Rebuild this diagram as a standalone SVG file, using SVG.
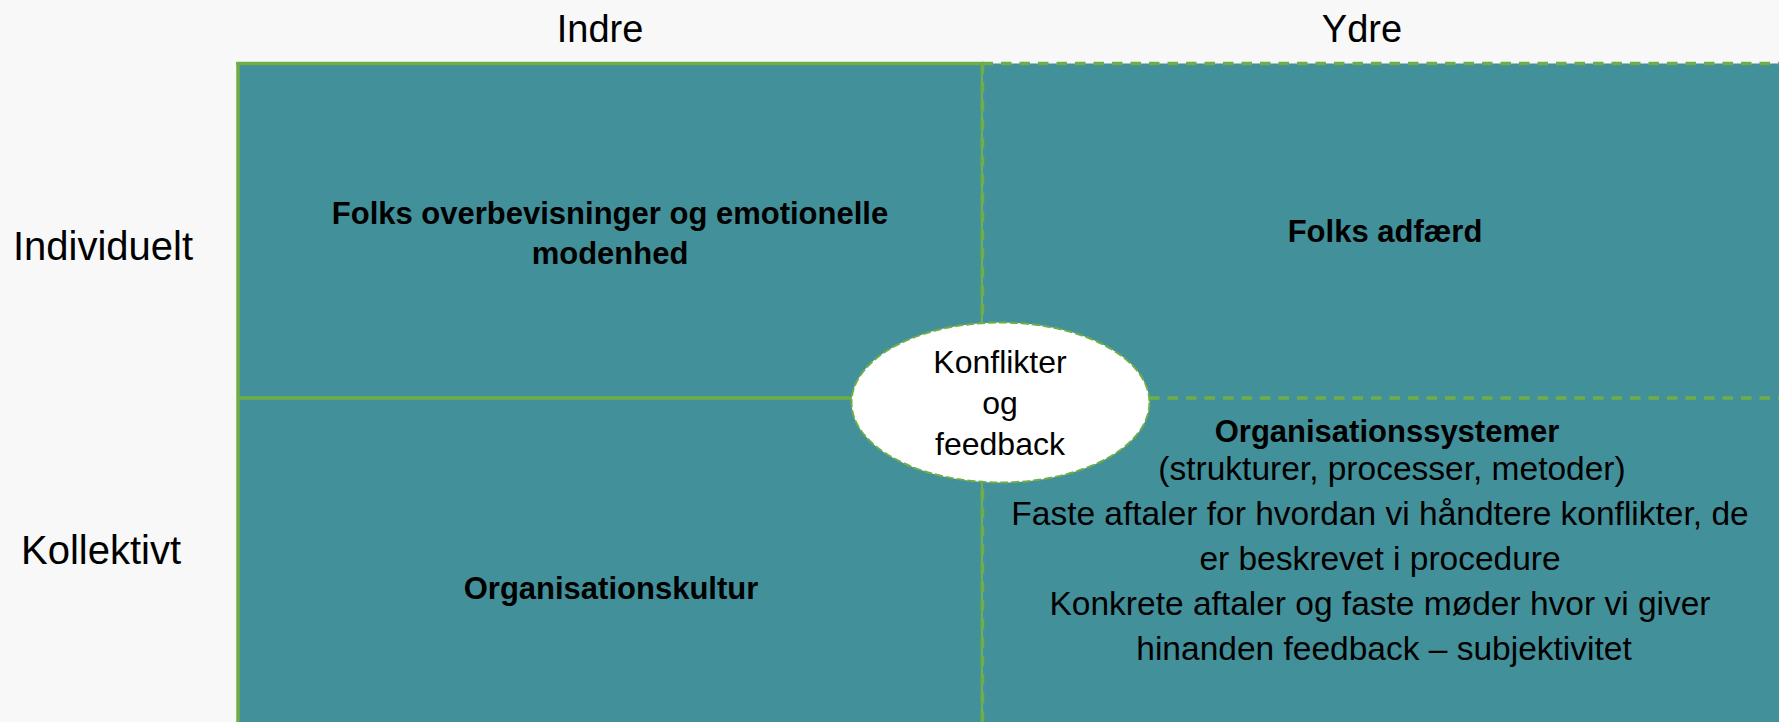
<svg xmlns="http://www.w3.org/2000/svg" width="1779" height="722" viewBox="0 0 1779 722">
  <style>
    text { font-family: "Liberation Sans", Arial, sans-serif; fill: #000; text-anchor: middle; }
    .head { font-size: 38px; }
    .side { font-size: 40px; }
    .bold { font-size: 31px; font-weight: bold; }
    .body { font-size: 33.5px; }
    .oval { font-size: 32px; }
    .quad { fill: #42909A; stroke: none; }
    .solid { stroke: #70AD47; stroke-width: 3.5; fill: none; }
    .thin { stroke: #70AD47; stroke-width: 1.75; fill: none; }
    .dash { stroke: #70AD47; stroke-width: 3.5; fill: none; stroke-dasharray: 10.5 8; }
  </style>

  <rect width="1779" height="722" fill="#F8F8F8"/>

  <!-- axis labels -->
  <g id="axis-labels">
    <text class="head" x="600" y="42">Indre</text>
    <text class="head" x="1362" y="42">Ydre</text>
    <text class="side" x="103" y="260">Individuelt</text>
    <text class="side" x="101" y="564">Kollektivt</text>
  </g>

  <!-- quadrants -->
  <g id="q-inner-individual">
    <rect class="quad" x="238" y="63.5" width="744.5" height="334.5"/>
    <text class="bold" x="610" y="224">Folks overbevisninger og emotionelle</text>
    <text class="bold" x="610" y="264">modenhed</text>
  </g>
  <g id="q-outer-individual">
    <rect class="quad" x="982.5" y="63.5" width="800" height="334.5"/>
    <text class="bold" x="1385" y="242">Folks adfærd</text>
  </g>
  <g id="q-inner-collective">
    <rect class="quad" x="238" y="398" width="744.5" height="330"/>
    <text class="bold" x="611" y="599">Organisationskultur</text>
  </g>
  <g id="q-outer-collective">
    <rect class="quad" x="982.5" y="398" width="800" height="330"/>
    <text class="bold" x="1387" y="442">Organisationssystemer</text>
    <text class="body" x="1392" y="480">(strukturer, processer, metoder)</text>
    <text class="body" x="1380" y="525">Faste aftaler for hvordan vi håndtere konflikter, de</text>
    <text class="body" x="1380" y="570">er beskrevet i procedure</text>
    <text class="body" x="1380" y="615">Konkrete aftaler og faste møder hvor vi giver</text>
    <text class="body" x="1384" y="660">hinanden feedback – subjektivitet</text>
  </g>

  <!-- grid lines -->
  <g id="connectors">
    <line class="solid" x1="238" y1="62" x2="238" y2="722"/>
    <line class="solid" x1="236.25" y1="63.5" x2="984" y2="63.5"/>
    <line class="solid" x1="238" y1="398" x2="982.5" y2="398"/>
    <line class="thin" x1="981.6" y1="63.5" x2="981.6" y2="722"/>
    <line class="dash" x1="982.5" y1="63.5" x2="1779" y2="63.5"/>
    <line class="dash" x1="982.5" y1="398" x2="1779" y2="398"/>
    <line class="dash" x1="982.5" y1="63.5" x2="982.5" y2="722"/>
  </g>

  <!-- centre ellipse -->
  <g id="conflict-feedback">
    <ellipse cx="1000.5" cy="402.5" rx="149" ry="80" fill="#FFFFFF" stroke="#70AD47" stroke-width="2" stroke-dasharray="8 3"/>
    <text class="oval" x="1000" y="373">Konflikter</text>
    <text class="oval" x="1000" y="414">og</text>
    <text class="oval" x="1000" y="455">feedback</text>
  </g>
</svg>
